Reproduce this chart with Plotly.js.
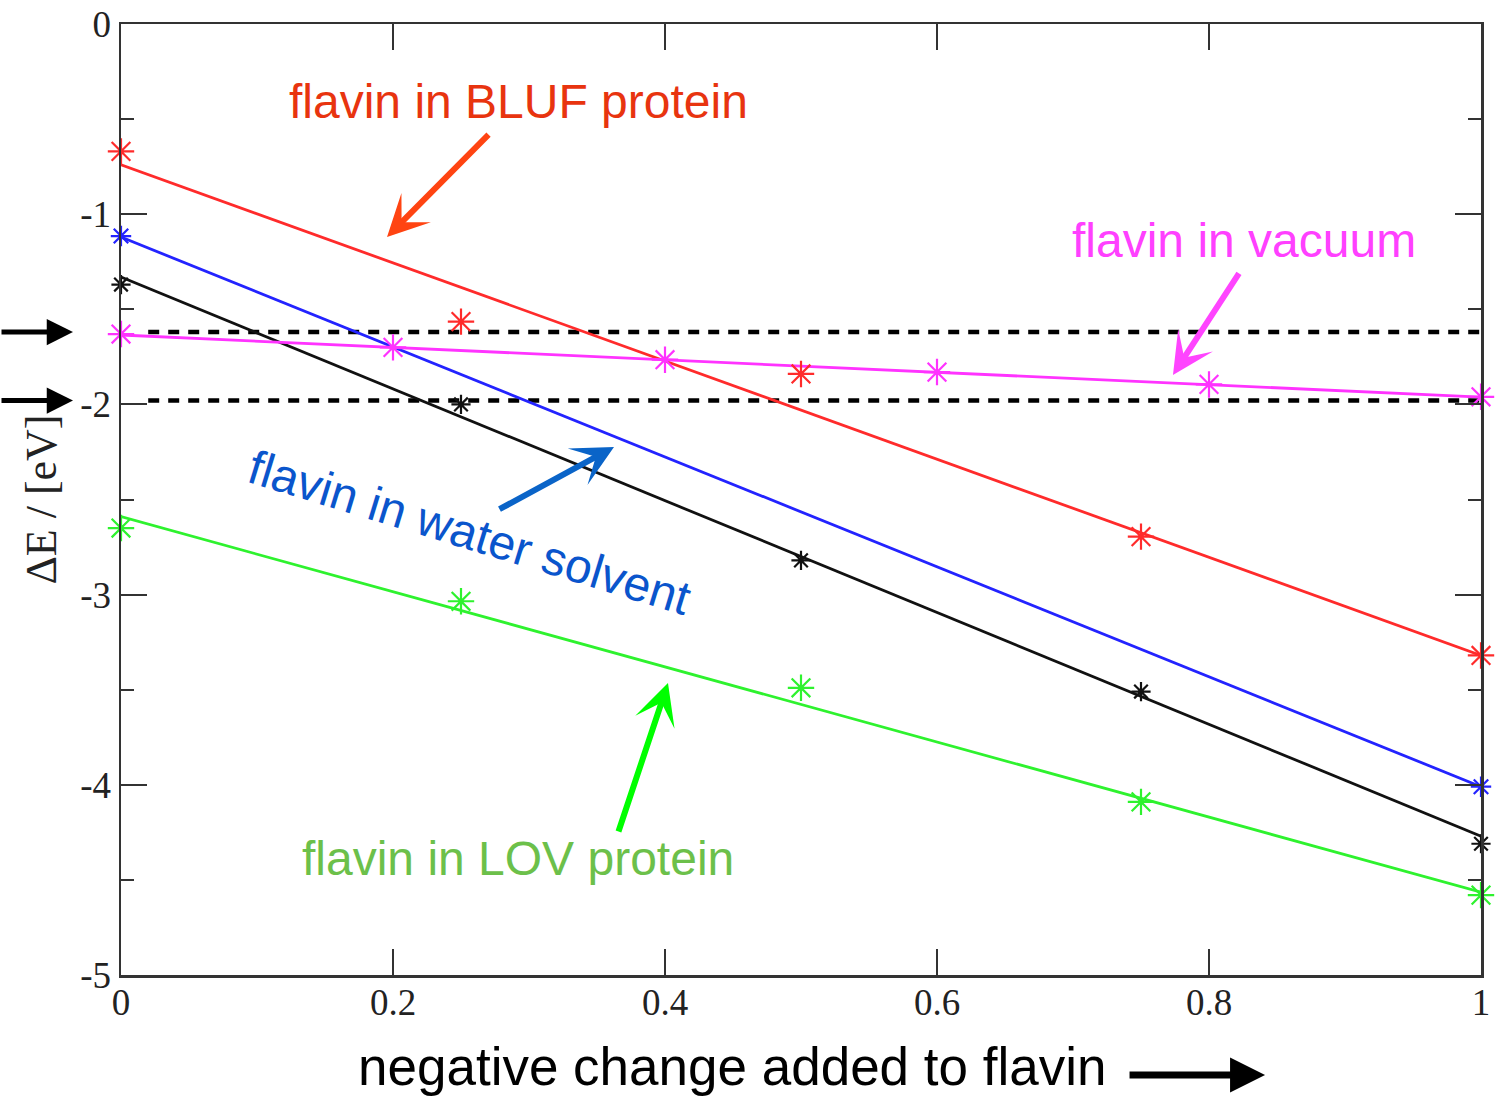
<!DOCTYPE html>
<html>
<head>
<meta charset="utf-8">
<script src="https://cdn.plot.ly/plotly-3.0.1.min.js"></script>
<style>
  html, body { margin: 0; padding: 0; background: #ffffff; }
  #chart { width: 1509px; height: 1097px; }
</style>
</head>
<body>
<div id="chart"></div>
<script>
// Fraction of an electron charge added to the flavin
const chargeSteps  = [0, 0.25, 0.5, 0.75, 1];
const vacuumSteps  = [0, 0.2, 0.4, 0.6, 0.8, 1];
const waterSteps   = [0, 1];

// Energy gaps ΔE in eV
const blufEnergy   = [-0.67, -1.565, -1.84, -2.695, -3.32];
const otherEnergy  = [-1.37, -2.0, -2.82, -3.51, -4.31];
const lovEnergy    = [-2.65, -3.035, -3.49, -4.09, -4.58];
const vacuumEnergy = [-1.63, -1.70, -1.765, -1.83, -1.895, -1.96];
const waterEnergy  = [-1.115, -4.01];

// Straight-line fits evaluated at both ends of the charge range
const fitX       = [0, 1];
const blufFit    = [-0.74, -3.32];
const otherFit   = [-1.33, -4.27];
const lovFit     = [-2.59, -4.565];
const vacuumFit  = [-1.635, -1.962];
const waterFit   = [-1.12, -4.01];

// Horizontal reference levels (dashed)
const refLevels = [-1.62, -1.98];
const refSpan   = [0.02, 1];

// Axis ticks
const xTickVals   = [0, 0.2, 0.4, 0.6, 0.8, 1];
const xTickLabels = ['0', '0.2', '0.4', '0.6', '0.8', '1'];
const yTickVals   = [-5, -4, -3, -2, -1, 0];
const yTickLabels = ['-5', '-4', '-3', '-2', '-1', '0'];

const colors = {
  bluf:   '#ff2b2b',
  water:  '#2323ff',
  other:  '#111111',
  vacuum: '#ff33ff',
  lov:    '#2ef22e'
};

function fitLine(y, color, name) {
  return {
    x: fitX, y: y, type: 'scatter', mode: 'lines', name: name,
    line: { color: color, width: 2.8 }, cliponaxis: false, hoverinfo: 'skip'
  };
}
function points(x, y, color, size, name) {
  return {
    x: x, y: y, type: 'scatter', mode: 'markers', name: name,
    marker: { symbol: 'asterisk-open', size: size, color: color,
              line: { color: color, width: 2.2 } },
    cliponaxis: false
  };
}

const traces = [];
refLevels.forEach(function (lvl) {
  traces.push({
    x: refSpan, y: [lvl, lvl], type: 'scatter', mode: 'lines',
    line: { color: '#000000', width: 4.5, dash: '11px,9px' }, hoverinfo: 'skip'
  });
});
traces.push(
  fitLine(blufFit,   colors.bluf,   'BLUF fit'),
  fitLine(waterFit,  colors.water,  'water fit'),
  fitLine(otherFit,  colors.other,  'unlabelled fit'),
  fitLine(vacuumFit, colors.vacuum, 'vacuum fit'),
  fitLine(lovFit,    colors.lov,    'LOV fit'),
  points(chargeSteps, blufEnergy,   colors.bluf,   22, 'flavin in BLUF protein'),
  points(waterSteps,  waterEnergy,  colors.water,  17, 'flavin in water solvent'),
  points(chargeSteps, otherEnergy,  colors.other,  16, 'unlabelled series'),
  points(vacuumSteps, vacuumEnergy, colors.vacuum, 22, 'flavin in vacuum'),
  points(chargeSteps, lovEnergy,    colors.lov,    22, 'flavin in LOV protein')
);

const sans = 'Liberation Sans, Arial, Helvetica, sans-serif';
const serif = 'Liberation Serif, Times New Roman, serif';

function label(text, x, y, color, angle) {
  return {
    text: text, x: x, y: y, xref: 'x', yref: 'y', showarrow: false,
    xanchor: 'center', yanchor: 'middle', textangle: angle || 0,
    font: { family: sans, size: 48, color: color }
  };
}
function pointer(x, y, ax, ay, color, head, width, size, xref, yref) {
  return {
    text: '', x: x, y: y, xref: xref || 'x', yref: yref || 'y',
    ax: ax, ay: ay, showarrow: true, arrowhead: head,
    arrowwidth: width, arrowsize: size, arrowcolor: color, standoff: 0
  };
}

const annotations = [
  label('flavin in BLUF protein', 0.2926, -0.41, '#e8340f'),
  label('flavin in vacuum', 0.8254, -1.136, '#ff40ff'),
  label('flavin in water solvent', 0.2560, -2.676, '#0a55cc', 17),
  label('flavin in LOV protein', 0.2919, -4.385, '#6cc04a'),
  pointer(0.1956, -1.120, 103, -104, '#ff4412', 3, 6, 1.15),
  pointer(0.7735, -1.845, 67, -103, '#ff44ff', 3, 6, 1.15),
  pointer(0.3625, -2.224, -116, 63, '#0a64c8', 3, 6, 1.15),
  pointer(0.4022, -3.465, -50, 150, '#00ff00', 3, 6, 1.15),
  // markers pointing at the two dashed levels from outside the frame
  pointer(-0.0353, refLevels[0], -73, 0, '#000000', 2, 5, 1.05, 'paper', 'y'),
  pointer(-0.0353, refLevels[1], -73, 0, '#000000', 2, 5, 1.05, 'paper', 'y'),
  {
    text: 'negative change added to flavin', x: 0.449, y: -0.096,
    xref: 'paper', yref: 'paper', showarrow: false,
    xanchor: 'center', yanchor: 'middle',
    font: { family: sans, size: 53, color: '#000000' }
  },
  pointer(0.8412, -0.1052, -137, 0, '#000000', 2, 7, 1.0, 'paper', 'paper')
];

const axisCommon = {
  showline: true, linecolor: '#333333', linewidth: 2.5,
  mirror: 'ticks', ticks: 'inside', ticklen: 26, tickwidth: 2,
  tickcolor: '#333333', showgrid: false, zeroline: false,
  tickfont: { family: serif, size: 37, color: '#222222' },
  automargin: false
};

const layout = {
  width: 1509, height: 1097,
  margin: { l: 121, r: 28, t: 24, b: 122 },
  paper_bgcolor: '#ffffff', plot_bgcolor: '#ffffff',
  showlegend: false,
  xaxis: Object.assign({}, axisCommon, {
    range: [0, 1], tickmode: 'array', tickvals: xTickVals, ticktext: xTickLabels,
    ticklabelstandoff: -7
  }),
  yaxis: Object.assign({}, axisCommon, {
    range: [-5, 0], tickmode: 'array', tickvals: yTickVals, ticktext: yTickLabels,
    ticklabelstandoff: 0,
    minor: { dtick: 0.5, ticks: 'inside', ticklen: 13, tickwidth: 2, tickcolor: '#333333' },
    title: { text: 'ΔE / [eV]', standoff: 10,
             font: { family: serif, size: 44, color: '#222222' } }
  }),
  annotations: annotations
};

Plotly.newPlot('chart', traces, layout, { displayModeBar: false, staticPlot: true });
</script>
</body>
</html>
